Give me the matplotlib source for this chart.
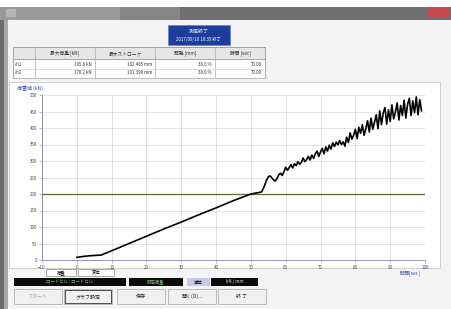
import numpy as np
from matplotlib import pyplot as plt
from matplotlib.patches import Rectangle

plt.rcParams['font.family'] = ['Noto Sans CJK JP', 'DejaVu Sans']

# データ (距離 vs 荷重)
dist_base = [0, 2, 4, 7, 10, 15, 20, 25, 30, 35, 40, 45, 50, 53]
load_base = [8, 11, 13, 15, 28, 50, 72, 94, 115, 137, 158, 180, 200, 206]

dist_noisy = [53.5, 54, 54.5, 55, 55.5, 56, 56.5, 57, 57.5, 58, 58.5, 59, 59.5,
              60, 60.5, 61, 61.5, 62, 62.5, 63, 63.5, 64, 64.5, 65, 65.5, 66,
              66.5, 67, 67.5, 68, 68.5, 69, 69.5, 70, 70.5, 71, 71.5, 72, 72.5,
              73, 73.5, 74, 74.5, 75, 75.5, 76, 76.5, 77, 77.5, 78, 78.5, 79,
              79.5, 80, 80.5, 81, 81.5, 82, 82.5, 83, 83.5, 84, 84.5, 85, 85.5,
              86, 86.5, 87, 87.5, 88, 88.5, 89, 89.5, 90, 90.5, 91, 91.5, 92,
              92.5, 93, 93.5, 94, 94.5, 95, 95.5, 96, 96.5, 97, 97.5, 98, 98.5, 99]
load_noisy = [215, 228, 242, 252, 255, 249, 243, 239, 247, 258, 263, 256, 268,
              281, 272, 280, 289, 279, 292, 286, 298, 290, 296, 309, 298, 304,
              314, 303, 318, 308, 322, 330, 314, 328, 338, 322, 343, 330, 348,
              336, 355, 344, 357, 349, 362, 350, 358, 345, 372, 356, 385, 366,
              378, 396, 368, 402, 384, 410, 378, 398, 422, 388, 430, 396, 418,
              440, 398, 452, 410, 446, 462, 412, 455, 420, 470, 428, 448, 476,
              424, 468, 438, 484, 430, 472, 490, 438, 482, 446, 494, 440, 486, 452]

limit_load = 200
x_ticks = list(range(-10, 101, 10))
y_ticks = list(range(0, 501, 50))

# 表
col_labels = ['', '最大荷重 [kN]', '最大ストローク', '距離 [mm]', '時間 [sec]']
row1 = ['ch1', '195.8 kN', '102.485 mm', '38.0 %', '70.00']
row2 = ['ch2', '170.2 kN', '101.390 mm', '38.0 %', '70.00']

fig = plt.figure(figsize=(4.51, 3.09), dpi=100)
fig.patch.set_facecolor('#f2f2f2')

# ウィンドウ枠 (ピクセル座標)
bg = fig.add_axes([0, 0, 1, 1])
bg.set_xlim(0, 451)
bg.set_ylim(309, 0)
bg.axis('off')

def box(x, y, w, h, fc, ec='none', lw=0.6):
    bg.add_patch(Rectangle((x, y), w, h, facecolor=fc, edgecolor=ec, linewidth=lw))

box(0, 0, 451, 7, 'white')
box(0, 7, 451, 13, '#6f6f6f')
box(0, 7, 120, 13, '#9a9a9a')
box(120, 7, 60, 13, '#858585')
box(428, 8, 22, 10, '#c84a4a')
box(6, 9, 10, 8, '#b5b5b5')
box(0, 20, 4, 289, '#6a6a6a')
box(4, 20, 4, 289, '#a8a8a8')
box(8, 20, 443, 289, '#f4f4f4')

# 青いステータス
box(168, 25, 62, 20, '#1c3d9c', '#6a86d0')
bg.text(199, 31, '測定終了', color='white', fontsize=3.6, ha='center', va='center')
bg.text(199, 40, '2017/09/10 10:35 終了', color='white', fontsize=3.2,
        ha='center', va='center')

# 結果表
col_x = [13, 35, 95, 155, 215, 265]
box(13, 47, 252, 31, 'white', '#9a9a9a')
box(13, 47, 252, 12, '#e6e6e6', '#9a9a9a')
for i in range(5):
    bg.plot([col_x[i], col_x[i]], [47, 78], color='#aaaaaa', lw=0.5)
    bg.text((col_x[i] + col_x[i + 1]) / 2, 53.5, col_labels[i], fontsize=3.4,
            ha='center', va='center', color='#333333')
for r, row in enumerate([row1, row2]):
    yy = 64 + r * 9
    bg.plot([13, 265], [yy + 4.5, yy + 4.5], color='#cccccc', lw=0.4)
    bg.text(15, yy, row[0], fontsize=3.2, va='center', color='#333333')
    for i in range(1, 5):
        bg.text(col_x[i + 1] - 3, yy, row[i], fontsize=3.2, ha='right',
                va='center', color='#333333')

# グラフパネル
box(9, 82, 431, 186, 'white', '#c8c8c8')
bg.text(17, 88, '荷重値 (kN)', fontsize=3.6, color='#3a4fa8', va='center')
bg.text(421, 273, '時間[sec]', fontsize=3.6, color='#3a4fa8', va='center',
        ha='right')

# 凡例・ステータスバー・ボタン
box(46, 269, 30, 7, 'white', '#9a9a9a')
bg.text(61, 272.5, '荷重', fontsize=3.2, ha='center', va='center')
box(78, 269, 36, 7, 'white', '#9a9a9a')
bg.text(96, 272.5, '変位', fontsize=3.2, ha='center', va='center')

box(14, 278, 112, 8, '#0a0a0a')
bg.text(70, 282, 'ロードセル : ロードセル', fontsize=3.2, color='#7fbf7f',
        ha='center', va='center')
box(129, 278, 54, 8, '#0a0a0a')
bg.text(156, 282, '設定荷重', fontsize=3.2, color='#7fbf7f', ha='center',
        va='center')
box(187, 278, 23, 8, '#c8c8e8')
bg.text(198.5, 282, '単位', fontsize=3.2, ha='center', va='center')
box(211, 278, 47, 8, '#0a0a0a')
bg.text(234.5, 282, 'kN / mm', fontsize=3.2, color='#cccccc', ha='center',
        va='center')

buttons = [(14, 'スタート', '#aaaaaa'), (64, 'グラフ設定', '#222222'),
           (117, '保存', '#222222'), (168, '開く(O)...', '#222222'),
           (218, '終 了', '#222222')]
for bx, label, tc in buttons:
    box(bx, 289, 48, 15, '#f0f0f0', '#b0b0b0')
    bg.text(bx + 24, 296.5, label, fontsize=3.6, color=tc, ha='center',
            va='center')
bg.add_patch(Rectangle((65, 290), 46, 13, facecolor='none', edgecolor='#333333',
                       linewidth=0.6))

# グラフ本体
ax = fig.add_axes([42 / 451, 1 - 260 / 309, 383 / 451, 165 / 309])
ax.set_facecolor('white')
ax.set_xlim(-10, 100)
ax.set_ylim(0, 500)
ax.set_xticks(x_ticks)
ax.set_yticks(y_ticks)
ax.tick_params(labelsize=3.2, labelcolor='#444466', length=2, width=0.4,
               color='#8888aa', pad=1.5)
ax.grid(color='#d8d8d8', linewidth=0.5)
for side in ['top', 'right']:
    ax.spines[side].set_visible(False)
for side in ['left', 'bottom']:
    ax.spines[side].set_color('#8080b0')
    ax.spines[side].set_linewidth(0.6)

ax.axhline(limit_load, color='#5a6b35', linewidth=0.9)
ax.plot(dist_base + dist_noisy, load_base + load_noisy, color='black',
        linewidth=1.2)

plt.savefig('out.png', dpi=100, facecolor=fig.get_facecolor())
